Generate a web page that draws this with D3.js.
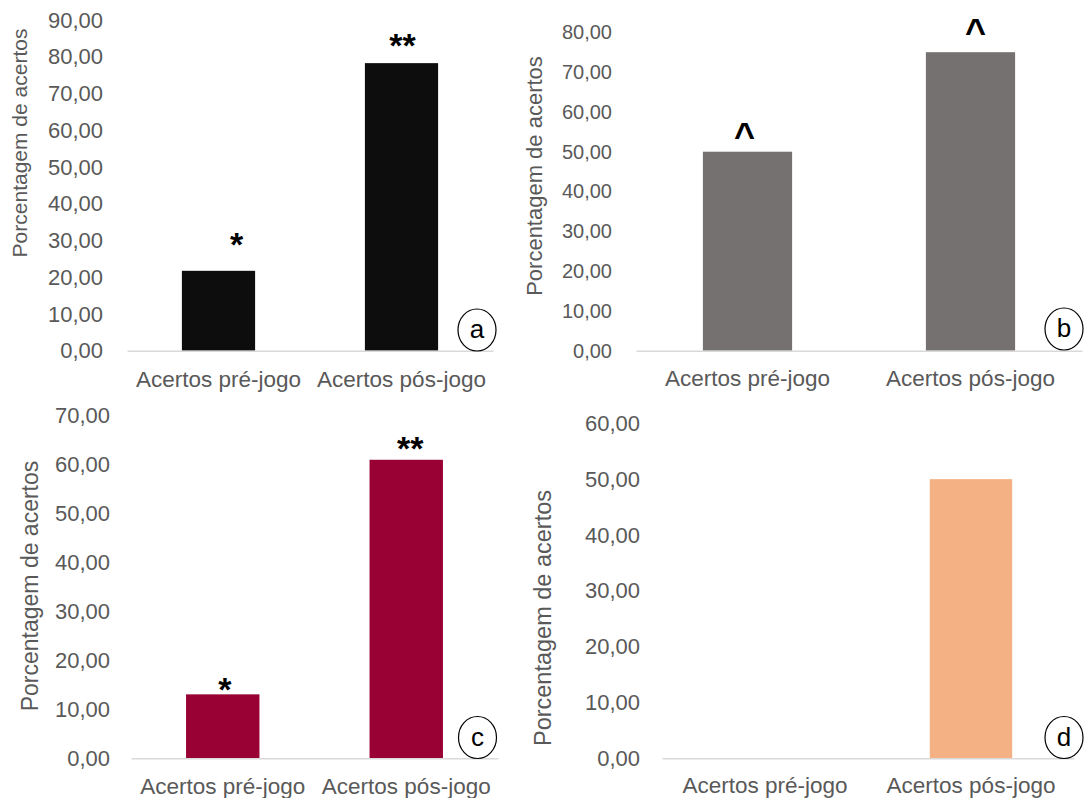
<!DOCTYPE html>
<html><head><meta charset="utf-8">
<script src="https://cdn.jsdelivr.net/npm/d3@7"></script>
<style>
html,body{margin:0;padding:0;background:#fff;}
svg{display:block;}
text{font-family:"Liberation Sans",Arial,sans-serif;}
</style>
</head><body>
<svg id="chart" width="1088" height="798"></svg>
<script>
// ---- data ----
const categories = ["Acertos pré-jogo", "Acertos pós-jogo"];
const valuesA = [21.74, 78.26];
const valuesB = [50.00, 75.00];
const valuesC = [13.04, 60.87];
const valuesD = [0.00, 50.00];
const ticksA = [0, 10, 20, 30, 40, 50, 60, 70, 80, 90];
const ticksB = [0, 10, 20, 30, 40, 50, 60, 70, 80];
const ticksC = [0, 10, 20, 30, 40, 50, 60, 70];
const ticksD = [0, 10, 20, 30, 40, 50, 60];
const marksA = ["*", "**"];
const marksB = ["^", "^"];
const marksC = ["*", "**"];
const marksD = ["", ""];
const markLevelA = [31, 85];
const markLevelB = [56, 82];
const markLevelC = [15.5, 64.8];
const markLevelD = [0, 0];
const panelLetters = ["a", "b", "c", "d"];
const yTitle = "Porcentagem de acertos";

// ---- layout / style ----
const panels = [
  {values: valuesA, ticks: ticksA, marks: marksA, markLevel: markLevelA, letter: panelLetters[0],
   color: "#0d0d0d", x0: 127, x1: 493, yTop: 20, yBase: 350.7, tickRight: 103, tickFs: 22,
   titleX: 27, titleCY: 143, titleFs: 21, catBase: 387, catFs: 22.5,
   cx: 477, cy: 330, markDx: [18, 1]},
  {values: valuesB, ticks: ticksB, marks: marksB, markLevel: markLevelB, letter: panelLetters[1],
   color: "#767171", x0: 636, x1: 1082, yTop: 32.3, yBase: 350.7, tickRight: 612, tickFs: 20,
   titleX: 542, titleCY: 176, titleFs: 22, catBase: 386, catFs: 22.5,
   cx: 1064, cy: 329, markDx: [-3, 5]},
  {values: valuesC, ticks: ticksC, marks: marksC, markLevel: markLevelC, letter: panelLetters[2],
   color: "#990033", x0: 131, x1: 498, yTop: 415, yBase: 758.3, tickRight: 110, tickFs: 22,
   titleX: 38, titleCY: 586, titleFs: 23, catBase: 794, catFs: 22.5,
   cx: 477.5, cy: 737.5, markDx: [2, 4]},
  {values: valuesD, ticks: ticksD, marks: marksD, markLevel: markLevelD, letter: panelLetters[3],
   color: "#f4b183", x0: 662, x1: 1074, yTop: 423.3, yBase: 758.3, tickRight: 640, tickFs: 22,
   titleX: 551, titleCY: 618, titleFs: 23.5, catBase: 793, catFs: 22.5,
   cx: 1064, cy: 737.5, markDx: [0, 0]}
];

const textColor = "#595959";
const svg = d3.select("#chart");
svg.append("rect").attr("width", 1088).attr("height", 798).attr("fill", "#fff");

panels.forEach(p => {
  const g = svg.append("g");
  const yMax = p.ticks[p.ticks.length - 1];
  const y = d3.scaleLinear().domain([0, yMax]).range([p.yBase, p.yTop]);
  const x = d3.scaleBand().domain(categories).range([p.x0, p.x1]).paddingInner(0.6).paddingOuter(0.3);

  // y axis (labels only)
  const yAxis = g.append("g").attr("transform", `translate(${p.x0},0)`)
    .call(d3.axisLeft(y).tickValues(p.ticks).tickSize(0).tickPadding(p.x0 - p.tickRight)
      .tickFormat(v => d3.format(".2f")(v).replace(".", ",")));
  yAxis.select(".domain").remove();
  yAxis.selectAll("text").attr("fill", textColor).attr("font-size", p.tickFs)
    .attr("font-family", "Liberation Sans, Arial, sans-serif");

  // bars
  g.selectAll("rect.bar").data(p.values).join("rect").attr("class", "bar")
    .attr("x", (d, i) => x(categories[i]))
    .attr("width", x.bandwidth())
    .attr("y", d => y(d))
    .attr("height", d => p.yBase - y(d))
    .attr("fill", p.color);

  // x axis
  const xAxis = g.append("g").attr("transform", `translate(0,${p.yBase})`)
    .call(d3.axisBottom(x).tickSize(0).tickPadding(p.catBase - p.yBase - 0.71 * p.catFs));
  xAxis.select(".domain").attr("stroke", "#d9d9d9").attr("stroke-width", 1.5);
  xAxis.selectAll("text").attr("fill", textColor).attr("font-size", p.catFs)
    .attr("font-family", "Liberation Sans, Arial, sans-serif");

  // y title
  g.append("text")
    .attr("transform", `translate(${p.titleX},${p.titleCY}) rotate(-90)`)
    .attr("text-anchor", "middle")
    .attr("font-size", p.titleFs)
    .attr("fill", textColor)
    .text(yTitle);

  // significance marks
  g.selectAll("text.mark").data(p.marks).join("text").attr("class", "mark")
    .attr("x", (d, i) => x(categories[i]) + x.bandwidth() / 2 + p.markDx[i])
    .attr("y", (d, i) => y(p.markLevel[i]) + (d === "^" ? 20 : 19))
    .attr("text-anchor", "middle")
    .attr("font-weight", "bold")
    .attr("font-size", d => d === "^" ? 36 : 34)
    .attr("fill", "#000")
    .text(d => d);

  // panel letter circle
  g.append("ellipse").attr("cx", p.cx).attr("cy", p.cy).attr("rx", 19).attr("ry", 21)
    .attr("fill", "none").attr("stroke", "#000").attr("stroke-width", 1.2);
  g.append("text").attr("x", p.cx).attr("y", p.cy + 8)
    .attr("text-anchor", "middle").attr("font-size", 26).attr("fill", "#000")
    .text(p.letter);
});
</script>
</body></html>
